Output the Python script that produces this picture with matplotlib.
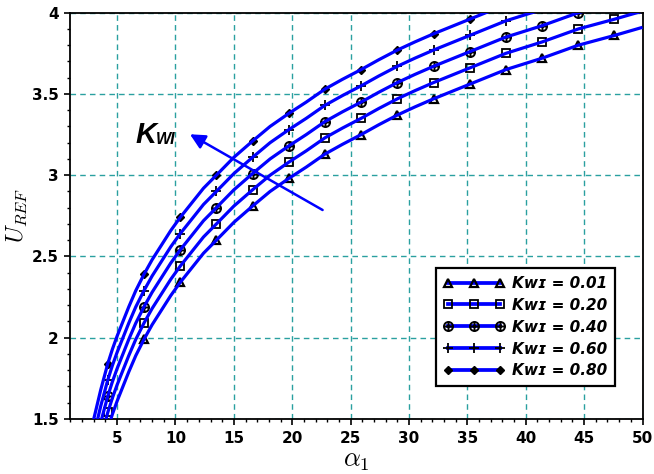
import numpy as np
import matplotlib
matplotlib.use("Agg")
import matplotlib.pyplot as plt
from matplotlib.path import Path
from matplotlib.lines import Line2D
from matplotlib.ticker import MultipleLocator

plt.rcParams["mathtext.fontset"] = "cm"

# alpha_1 sample points shared by every curve
alpha = [2.8, 3.0, 3.2, 3.4, 3.6, 3.9, 4.2, 4.6, 5.0, 5.5, 6.0, 6.6, 7.3, 8.0,
         8.8, 9.6, 10.4, 11.4, 12.4, 13.5, 15.0, 16.6, 18.1, 19.7, 21.2, 22.8,
         24.3, 25.9, 27.4, 29.0, 30.5, 32.1, 35.2, 38.3, 41.4, 44.5, 47.6, 50.0]

# positions where the series markers sit
marker_alpha = [4.2, 7.3, 10.4, 13.5, 16.6, 19.7, 22.8, 25.9, 29.0, 32.1,
                35.2, 38.3, 41.4, 44.5, 47.6]

kwi_labels = ["0.01", "0.20", "0.40", "0.60", "0.80"]

u_kwi_001 = [1.03, 1.10, 1.16, 1.22, 1.28, 1.36, 1.44, 1.53, 1.61, 1.70, 1.79,
             1.89, 1.99, 2.08, 2.17, 2.26, 2.34, 2.43, 2.52, 2.60, 2.71, 2.81,
             2.90, 2.98, 3.05, 3.13, 3.19, 3.25, 3.31, 3.37, 3.42, 3.47, 3.56,
             3.65, 3.72, 3.80, 3.86, 3.91]
u_kwi_020 = [1.13, 1.20, 1.26, 1.32, 1.38, 1.46, 1.54, 1.63, 1.71, 1.80, 1.89,
             1.99, 2.09, 2.18, 2.27, 2.36, 2.44, 2.53, 2.62, 2.70, 2.81, 2.91,
             3.00, 3.08, 3.15, 3.23, 3.29, 3.35, 3.41, 3.47, 3.52, 3.57, 3.66,
             3.75, 3.82, 3.90, 3.96, 4.01]
u_kwi_040 = [1.23, 1.30, 1.36, 1.42, 1.48, 1.56, 1.64, 1.73, 1.81, 1.90, 1.99,
             2.09, 2.19, 2.28, 2.37, 2.46, 2.54, 2.63, 2.72, 2.80, 2.91, 3.01,
             3.10, 3.18, 3.25, 3.33, 3.39, 3.45, 3.51, 3.57, 3.62, 3.67, 3.76,
             3.85, 3.92, 4.00, 4.06, 4.11]
u_kwi_060 = [1.33, 1.40, 1.46, 1.52, 1.58, 1.66, 1.74, 1.83, 1.91, 2.00, 2.09,
             2.19, 2.29, 2.38, 2.47, 2.56, 2.64, 2.73, 2.82, 2.90, 3.01, 3.11,
             3.20, 3.28, 3.35, 3.43, 3.49, 3.55, 3.61, 3.67, 3.72, 3.77, 3.86,
             3.95, 4.02, 4.10, 4.16, 4.21]
u_kwi_080 = [1.43, 1.50, 1.56, 1.62, 1.68, 1.76, 1.84, 1.93, 2.01, 2.10, 2.19,
             2.29, 2.39, 2.48, 2.57, 2.66, 2.74, 2.83, 2.92, 3.00, 3.11, 3.21,
             3.30, 3.38, 3.45, 3.53, 3.59, 3.65, 3.71, 3.77, 3.82, 3.87, 3.96,
             4.05, 4.12, 4.20, 4.26, 4.31]

series = [u_kwi_001, u_kwi_020, u_kwi_040, u_kwi_060, u_kwi_080]

# circle with a cross inside
circ = Path.unit_circle()
cross = Path([(-1, 0), (1, 0), (0, -1), (0, 1)],
             [Path.MOVETO, Path.LINETO, Path.MOVETO, Path.LINETO])
oplus = Path.make_compound_path(circ, cross)

styles = [
    dict(marker="^", ms=5.5, mfc="none", mec="black", mew=1.6),
    dict(marker="s", ms=5.8, mfc="none", mec="black", mew=1.3),
    dict(marker=oplus, ms=6.5, mfc="none", mec="black", mew=1.4),
    dict(marker="+", ms=7, mfc="none", mec="black", mew=1.3),
    dict(marker="D", ms=4.0, mfc="black", mec="black", mew=1.0),
]

blue = "#0000ff"
lw = 2.3

fig = plt.figure(figsize=(6.54, 4.74), dpi=100)
ax = fig.add_axes([70.4 / 654, 1 - 419 / 474, (642.5 - 70.4) / 654, (419 - 12.7) / 474])

a = np.array(alpha)
idx = np.where(np.isin(np.round(a, 2), np.round(marker_alpha, 2)))[0]

handles = []
for u, st, lab in zip(series, styles, kwi_labels):
    u = np.array(u)
    ax.plot(a[idx], u[idx], ls="none", zorder=2, **st)
    ax.plot(a, u, color=blue, lw=lw, zorder=3, solid_capstyle="butt")
    handles.append(Line2D([], [], color=blue, lw=lw + 0.4, **st,
                          label="K\u1d21\u026a = " + lab))

ax.set_xlim(1, 50)
ax.set_ylim(1.5, 4)
ax.xaxis.set_major_locator(MultipleLocator(5))
ax.xaxis.set_minor_locator(MultipleLocator(1))
ax.yaxis.set_major_locator(MultipleLocator(0.5))
ax.yaxis.set_minor_locator(MultipleLocator(0.1))
ax.tick_params(which="major", direction="out", length=4.5, width=1.2, pad=4,
               labelsize=11, top=False, right=False)
ax.tick_params(which="minor", direction="out", length=2.5, width=1.0,
               top=False, right=False)
ax.xaxis.set_major_formatter(plt.FuncFormatter(lambda v, p: f"{v:g}"))
ax.yaxis.set_major_formatter(plt.FuncFormatter(lambda v, p: f"{v:g}"))
for lbl in ax.get_xticklabels() + ax.get_yticklabels():
    lbl.set_fontweight("bold")

for s in ax.spines.values():
    s.set_linewidth(1.3)

ax.grid(True, which="major", color="#2aa0a0", lw=1.0, ls=(0, (4, 3)))
ax.set_axisbelow(True)

ax.set_xlabel(r"$\alpha_1$", fontsize=19, labelpad=1)
ax.set_ylabel(r"$U_{REF}$", fontsize=17)
ax.yaxis.set_label_coords(-0.072, 0.5)

# direction of increasing K_WI
ax.annotate("", xy=(11.24, 3.252), xytext=(22.6, 2.786),
            arrowprops=dict(arrowstyle="-|>,head_length=0.9,head_width=0.45",
                            color=blue, lw=1.8, shrinkA=0, shrinkB=0), zorder=4)
ax.text(6.6, 3.20, "K", fontsize=21, fontweight="bold", style="italic",
        family="Liberation Sans", ha="left", va="baseline", zorder=5)
ax.text(8.35, 3.195, "WI", fontsize=11.5, fontweight="bold", style="italic",
        family="Liberation Sans", ha="left", va="baseline", zorder=5)

leg = ax.legend(handles=handles, loc="lower right", bbox_to_anchor=(0.952, 0.081),
                borderaxespad=0, numpoints=3, handlelength=4.0, fancybox=False,
                framealpha=1, edgecolor="black", borderpad=0.5,
                labelspacing=0.45, handletextpad=0.5,
                prop=dict(weight="bold", style="italic", size=11))
leg.get_frame().set_linewidth(1.6)
leg.set_zorder(6)

fig.savefig("out.png", dpi=100)
